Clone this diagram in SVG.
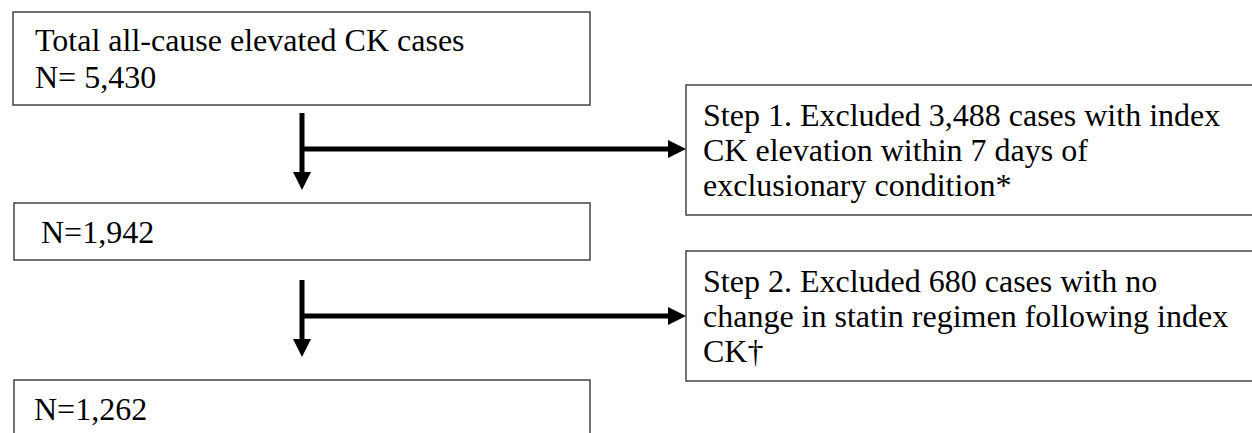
<svg xmlns="http://www.w3.org/2000/svg" width="1252" height="433" viewBox="0 0 1252 433">
<defs>
<style>
.box{fill:#fff;stroke:#444;stroke-width:1.5}
.t{font-family:"Liberation Serif","Times New Roman",serif;font-size:32px;fill:#000}
.ln{stroke:#000;stroke-width:5;fill:none}
.hd{fill:#000}
</style>
</defs>
<rect width="1252" height="433" fill="#fff"/>
<g id="total">
<rect class="box" x="13" y="12" width="577" height="93"/>
<text class="t" x="35" y="51">Total all-cause elevated CK cases</text>
<text class="t" x="35" y="88">N= 5,430</text>
</g>
<g id="n1942">
<rect class="box" x="14" y="203" width="576" height="57"/>
<text class="t" x="41" y="243">N=1,942</text>
</g>
<g id="n1262">
<rect class="box" x="14" y="380" width="576" height="60"/>
<text class="t" x="34" y="420">N=1,262</text>
</g>
<g id="step1">
<rect class="box" x="686" y="85" width="580" height="130"/>
<text class="t" x="703" y="126">Step 1. Excluded 3,488 cases with index</text>
<text class="t" x="703" y="161">CK elevation within 7 days of</text>
<text class="t" x="703" y="196">exclusionary condition*</text>
</g>
<g id="step2">
<rect class="box" x="686" y="251" width="580" height="130"/>
<text class="t" x="703" y="292">Step 2. Excluded 680 cases with no</text>
<text class="t" x="703" y="327">change in statin regimen following index</text>
<text class="t" x="703" y="362">CK†</text>
</g>
<g id="connectors">
<path class="ln" d="M302,113 V174"/>
<polygon class="hd" points="293,172 311,172 302,190"/>
<path class="ln" d="M302,149 H670"/>
<polygon class="hd" points="668,140 686,149 668,158"/>
<path class="ln" d="M302,280 V341"/>
<polygon class="hd" points="293,339 311,339 302,357"/>
<path class="ln" d="M302,316 H670"/>
<polygon class="hd" points="668,307 686,316 668,325"/>
</g>
</svg>
